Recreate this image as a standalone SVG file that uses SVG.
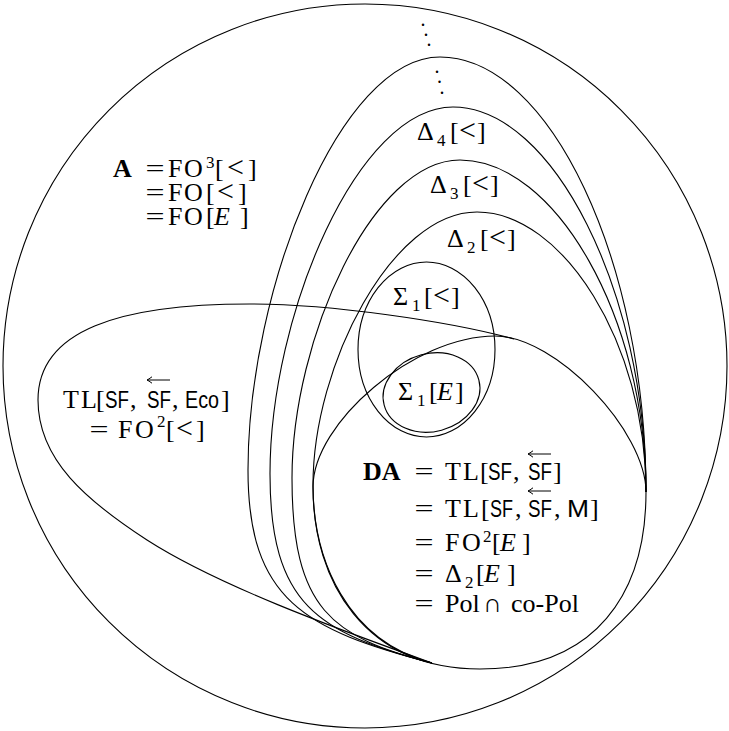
<svg xmlns="http://www.w3.org/2000/svg" width="729" height="731" viewBox="0 0 729 731">
<style>
.ln{fill:none;stroke:#000;stroke-width:1.1}
.t{font-family:"Liberation Serif","DejaVu Serif",serif;font-size:26px;fill:#000}
.b{font-weight:bold}
.i{font-style:italic}
.lt{font-size:30px}
.s{font-family:"Liberation Sans","DejaVu Sans",sans-serif;font-size:24px}
.sm{font-size:17px}
.eq{font-family:"Liberation Serif","DejaVu Serif",serif;font-size:26px;text-anchor:middle;fill:#000}
.dots{font-family:"Liberation Serif","DejaVu Serif",serif;font-size:20px;fill:#000}
.ar{fill:none;stroke:#000;stroke-width:1}
</style>
<defs>
<path id="lar" class="ar" d="M0,0 H23 M5,-3.2 Q1.5,-0.6 0,0 Q1.5,0.6 5,3.2"/>
</defs>
<rect width="729" height="731" fill="#fff"/>

<g id="outer">
<circle class="ln" cx="365" cy="366" r="362"/>
<text class="t"><tspan class="b" x="113" y="177">A</tspan><tspan x="168 184" y="177">FO</tspan><tspan class="sm" x="206" y="168">3</tspan><tspan x="215" y="177">[</tspan><tspan class="lt" x="227" y="177">&lt;</tspan><tspan x="248" y="177">]</tspan></text>
<text class="eq" transform="translate(155,177) scale(1.3,1)">=</text>
<text class="t"><tspan x="168 184" y="201">FO</tspan><tspan x="206" y="201">[</tspan><tspan class="lt" x="217" y="201">&lt;</tspan><tspan x="238" y="201">]</tspan></text>
<text class="eq" transform="translate(155,201) scale(1.3,1)">=</text>
<text class="t"><tspan x="168 184" y="225">FO</tspan><tspan x="206" y="225">[</tspan><tspan class="i" x="214" y="225">E</tspan><tspan x="240" y="225">]</tspan></text>
<text class="eq" transform="translate(155,225) scale(1.3,1)">=</text>
<text class="dots" x="420.5 423.5 426.5" y="25.5 35.5 45.5">...</text>
<text class="dots" x="434.5 437 439.5" y="72.5 83 93.5">...</text>
</g>

<g id="delta-omega">
<path class="ln" d="M432,663 C305,630 248,600 248,470 C248,290 340,57 440,57 C550,57 646,262 646,492"/>
</g>

<g id="delta4">
<path class="ln" d="M432,663 C318,633 270,605 270,474 C270,314 358,107 453,107 C553,107 646,292 646,492"/>
<text class="t"><tspan x="417" y="140">Δ</tspan><tspan class="sm" x="437" y="146">4</tspan><tspan x="450" y="140">[</tspan><tspan class="lt" x="459" y="140">&lt;</tspan><tspan x="477" y="140">]</tspan></text>
</g>

<g id="delta3">
<path class="ln" d="M432,663 C332,637 292,610 292,478 C292,338 373,160 460,160 C555,160 646,317 646,492"/>
<text class="t"><tspan x="430" y="193">Δ</tspan><tspan class="sm" x="450" y="199">3</tspan><tspan x="463" y="193">[</tspan><tspan class="lt" x="472" y="193">&lt;</tspan><tspan x="490" y="193">]</tspan></text>
</g>

<g id="delta2">
<path class="ln" d="M432,663 C347,641 313,560 313,485 C313,365 392,212 477,212 C562,212 646,342 646,492"/>
<text class="t"><tspan x="447" y="247">Δ</tspan><tspan class="sm" x="467" y="253">2</tspan><tspan x="480" y="247">[</tspan><tspan class="lt" x="489" y="247">&lt;</tspan><tspan x="507" y="247">]</tspan></text>
</g>

<g id="sigma1-lt">
<ellipse class="ln" cx="426.5" cy="349.5" rx="68.5" ry="87.5"/>
<text class="t"><tspan x="393" y="305">Σ</tspan><tspan class="sm" x="412" y="311">1</tspan><tspan x="424" y="305">[</tspan><tspan class="lt" x="433" y="305">&lt;</tspan><tspan x="451" y="305">]</tspan></text>
</g>

<g id="sigma1-E">
<ellipse class="ln" cx="431.5" cy="392.5" rx="49" ry="39" transform="rotate(-15 431.5 392.5)"/>
<text class="t"><tspan x="398" y="400">Σ</tspan><tspan class="sm" x="417" y="406">1</tspan><tspan x="429" y="400">[</tspan><tspan class="i" x="437" y="400">E</tspan><tspan x="455" y="400">]</tspan></text>
</g>

<g id="tl">
<path class="ln" d="M432,663 C332,627 217,585 147,540 C87,501 38,460 38,400 C38,330 120,304 250,304 C330,304 448,321 514,339"/>
<text class="t"><tspan x="63 81 96" y="408">TL[</tspan><tspan class="s" x="105" y="408" textLength="24" lengthAdjust="spacingAndGlyphs">SF</tspan><tspan x="130" y="408">,</tspan><tspan class="s" x="147" y="408" textLength="24" lengthAdjust="spacingAndGlyphs">SF</tspan><tspan x="172" y="408">,</tspan><tspan class="s" x="185" y="408" textLength="34" lengthAdjust="spacingAndGlyphs">Eco</tspan><tspan x="221" y="408">]</tspan></text>
<use href="#lar" x="147" y="380"/>
<text class="eq" transform="translate(99,438) scale(1.3,1)">=</text>
<text class="t"><tspan x="118 135" y="438">FO</tspan><tspan class="sm" x="157" y="427">2</tspan><tspan x="166" y="438">[</tspan><tspan class="lt" x="176" y="438">&lt;</tspan><tspan x="196" y="438">]</tspan></text>
</g>

<g id="da">
<path class="ln" d="M495,336 C556,336 646,431 646,492 C646,593 596,669 480,669 C365,669 313,582 313,487 C313,423 414,336 495,336 Z"/>
<text class="t"><tspan class="b" x="363" y="480">DA</tspan><tspan x="445 463 480" y="480">TL[</tspan><tspan class="s" x="488" y="480" textLength="24" lengthAdjust="spacingAndGlyphs">SF</tspan><tspan x="513" y="480">,</tspan><tspan class="s" x="528" y="480" textLength="24" lengthAdjust="spacingAndGlyphs">SF</tspan><tspan x="553" y="480">]</tspan></text>
<use href="#lar" x="528" y="454"/>
<text class="eq" transform="translate(424,480) scale(1.3,1)">=</text>
<text class="t"><tspan x="445 463 481" y="517">TL[</tspan><tspan class="s" x="490" y="517" textLength="23" lengthAdjust="spacingAndGlyphs">SF</tspan><tspan x="515" y="517">,</tspan><tspan class="s" x="528" y="517" textLength="24" lengthAdjust="spacingAndGlyphs">SF</tspan><tspan x="554" y="517">,</tspan><tspan class="s" x="567" y="517" textLength="22" lengthAdjust="spacingAndGlyphs">M</tspan><tspan x="590" y="517">]</tspan></text>
<use href="#lar" x="528" y="491"/>
<text class="eq" transform="translate(424,517) scale(1.3,1)">=</text>
<text class="t"><tspan x="445 462" y="551">FO</tspan><tspan class="sm" x="483" y="542">2</tspan><tspan x="492" y="551">[</tspan><tspan class="i" x="500" y="551">E</tspan><tspan x="522" y="551">]</tspan></text>
<text class="eq" transform="translate(424,551) scale(1.3,1)">=</text>
<text class="t"><tspan x="445" y="582">Δ</tspan><tspan class="sm" x="465" y="588">2</tspan><tspan x="476" y="582">[</tspan><tspan class="i" x="484" y="582">E</tspan><tspan x="507" y="582">]</tspan></text>
<text class="eq" transform="translate(424,582) scale(1.3,1)">=</text>
<text class="t"><tspan x="445" y="612">Pol</tspan><tspan x="483" y="612">∩</tspan><tspan x="511" y="612">co-Pol</tspan></text>
<text class="eq" transform="translate(424,612) scale(1.3,1)">=</text>
</g>

<g id="connectors"></g>
</svg>
